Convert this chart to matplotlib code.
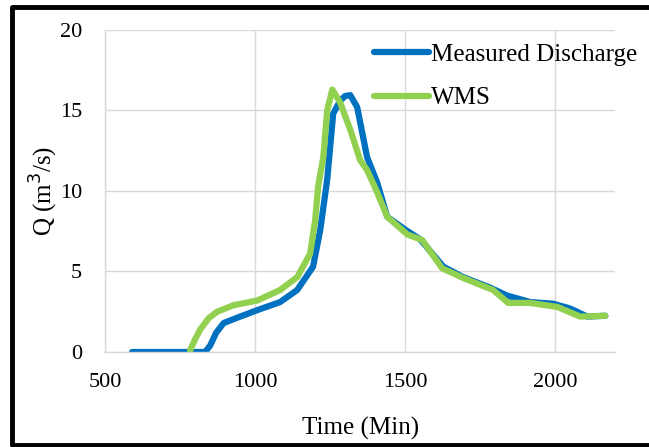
import matplotlib.pyplot as plt
from matplotlib.lines import Line2D

# Measured discharge
t_meas = [590, 833, 850, 870, 895, 950, 1007, 1083, 1140, 1193, 1217, 1240,
          1260, 1283, 1300, 1317, 1340, 1373, 1407, 1440, 1500, 1550, 1627,
          1693, 1783, 1840, 1917, 1993, 2050, 2107, 2167]
q_meas = [0.0, 0.0, 0.4, 1.2, 1.8, 2.2, 2.6, 3.1, 3.85, 5.3, 7.6, 10.7,
          14.8, 15.6, 15.9, 15.95, 15.2, 12.1, 10.5, 8.4, 7.6, 7.0, 5.3,
          4.65, 4.0, 3.5, 3.1, 3.0, 2.7, 2.2, 2.25]

# WMS simulated
t_wms = [783, 800, 817, 845, 873, 927, 1007, 1083, 1140, 1183, 1200, 1210,
         1227, 1240, 1257, 1283, 1317, 1350, 1373, 1407, 1440, 1507, 1557,
         1623, 1693, 1793, 1843, 1917, 2007, 2083, 2167]
q_wms = [0.1, 0.8, 1.4, 2.1, 2.5, 2.9, 3.2, 3.85, 4.65, 6.1, 8.2, 10.3,
         12.1, 15.0, 16.3, 15.5, 13.8, 11.9, 11.3, 9.9, 8.4, 7.3, 6.95,
         5.2, 4.6, 3.85, 3.05, 3.05, 2.8, 2.2, 2.25]

x_ticks = [500, 1000, 1500, 2000]
y_ticks = [0, 5, 10, 15, 20]

plt.rcParams['font.family'] = ['Liberation Serif', 'DejaVu Serif']

fig = plt.figure(figsize=(6.49, 4.47), dpi=100)
ax = fig.add_axes([0.162, 0.2125, 0.786, 0.7205])

ax.plot(t_meas, q_meas, color='#0070C0', lw=4.5, solid_capstyle='round',
        solid_joinstyle='round', label='Measured Discharge')
ax.plot(t_wms, q_wms, color='#92D050', lw=4.5, solid_capstyle='round',
        solid_joinstyle='round', label='WMS')

ax.set_xlim(500, 2200)
ax.set_ylim(0, 20)
ax.set_xticks(x_ticks)
ax.set_yticks(y_ticks)
ax.grid(True, color='#d9d9d9', lw=1)
ax.set_axisbelow(True)
for s in ['top', 'right']:
    ax.spines[s].set_visible(False)
for s in ['left', 'bottom']:
    ax.spines[s].set_color('#d9d9d9')
    ax.spines[s].set_linewidth(1)
ax.tick_params(axis='x', length=0, labelsize=16, pad=15)
ax.tick_params(axis='y', length=0, labelsize=16, pad=16.5)
ax.set_xlabel('Time (Min)', fontsize=18, labelpad=18)
ax.set_ylabel('Q (m$^3$/s)', fontsize=18, labelpad=0)

leg = ax.legend(loc='upper left', bbox_to_anchor=(0.508, 0.99), frameon=False,
                fontsize=18, handlelength=2.2, handletextpad=0.05,
                labelspacing=0.85, borderaxespad=0)

# black frame (left, top, bottom)
fig.lines.append(Line2D([1.0, 12 / 649, 12 / 649, 1.0],
                        [1 - 7 / 447, 1 - 7 / 447, 1 - 445 / 447, 1 - 445 / 447],
                        transform=fig.transFigure, color='black', lw=3.5))

fig.savefig('out.png', dpi=100)
